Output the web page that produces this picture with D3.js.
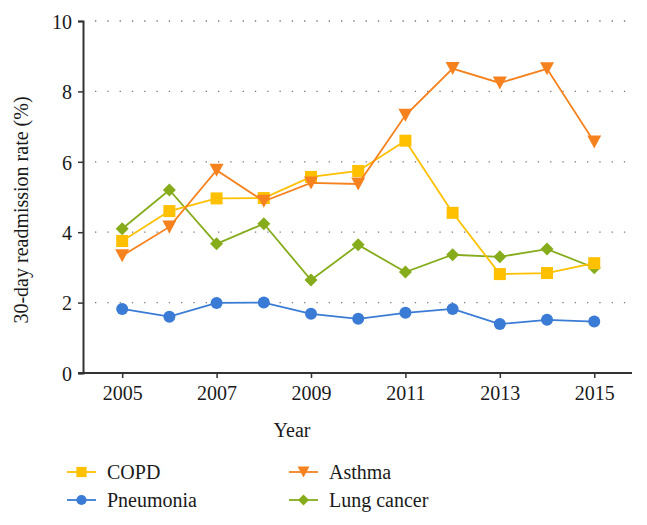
<!DOCTYPE html>
<html><head><meta charset="utf-8">
<script src="https://cdn.jsdelivr.net/npm/d3@7"></script>
<style>body{margin:0;background:#fff}svg{display:block}</style>
</head><body><svg id="c" width="647" height="525"></svg>
<script>
const years = [2005,2006,2007,2008,2009,2010,2011,2012,2013,2014,2015];
const copd = [3.75,4.6,4.96,4.97,5.57,5.74,6.6,4.55,2.81,2.84,3.12];
const asthma = [3.33,4.15,5.76,4.88,5.4,5.37,7.32,8.65,8.24,8.64,6.56];
const pneumonia = [1.82,1.6,1.99,2.0,1.68,1.54,1.71,1.82,1.39,1.51,1.46];
const lungCancer = [4.1,5.2,3.67,4.24,2.64,3.64,2.87,3.36,3.3,3.52,2.99];
const yTicks = [0,2,4,6,8,10];
const xTicks = [2005,2007,2009,2011,2013,2015];
const seriesNames = ["COPD","Asthma","Pneumonia","Lung cancer"];

const series = [
  {name:seriesNames[0], values:copd, color:"#FFC000", sym:"square"},
  {name:seriesNames[1], values:asthma, color:"#F5821F", sym:"tri"},
  {name:seriesNames[2], values:pneumonia, color:"#3A7BD5", sym:"circle"},
  {name:seriesNames[3], values:lungCancer, color:"#86AC1C", sym:"diamond"}
];

const FS = "20px";
const FF = "'Liberation Serif', 'DejaVu Serif', serif";
const svg = d3.select("#c");
const L=83, R=632, T=21, B=373;
const x = d3.scaleLinear().domain([2004.17,2015.8]).range([L,R]);
const y = d3.scaleLinear().domain([0,10]).range([B,T]);

// gridlines
svg.append("g").selectAll("line").data(yTicks.filter(d=>d>0)).join("line")
  .attr("x1",95).attr("x2",R).attr("y1",d=>y(d)).attr("y2",d=>y(d))
  .attr("stroke","#777").attr("stroke-width",1.3).attr("stroke-dasharray","1.3,11");

// axes
const yAxis = svg.append("g").attr("transform",`translate(${L},0)`)
  .call(d3.axisLeft(y).tickValues(yTicks).tickSize(5).tickPadding(6));
const xAxis = svg.append("g").attr("transform",`translate(0,${B})`)
  .call(d3.axisBottom(x).tickValues(xTicks).tickFormat(d3.format("d")).tickSize(5).tickPadding(8));
[yAxis,xAxis].forEach(g=>{
  g.attr("font-family",FF).attr("font-size",FS);
  g.select(".domain").attr("stroke","#333").attr("stroke-width",2);
  g.selectAll(".tick line").attr("stroke","#333").attr("stroke-width",1.5);
  g.selectAll(".tick text").style("font-family",FF).style("font-size",FS).attr("fill","#1a1a1a");
});
yAxis.selectAll(".tick text").attr("dy","0.36em");
xAxis.select(".domain").attr("d",`M${L-5},0H${R}`);

svg.append("text").attr("transform",`translate(28,${(T+B)/2+13}) rotate(-90)`)
  .attr("text-anchor","middle").style("font-family",FF).style("font-size",FS).attr("fill","#1a1a1a")
  .text("30-day readmission rate (%)");
svg.append("text").attr("x",292).attr("y",437).attr("text-anchor","middle")
  .style("font-family",FF).style("font-size",FS).attr("fill","#1a1a1a").text("Year");

function drawSym(g, s, cx, cy, scale){
  scale = scale||1;
  if(s.sym==="square"){
    const h=6*scale;
    g.append("rect").attr("x",cx-h).attr("y",cy-h).attr("width",2*h).attr("height",2*h).attr("fill",s.color);
  } else if(s.sym==="circle"){
    g.append("circle").attr("cx",cx).attr("cy",cy).attr("r",6*scale).attr("fill",s.color);
  } else if(s.sym==="tri"){
    const w=7*scale, h=6.5*scale;
    g.append("path").attr("d",`M${cx-w},${cy-h}L${cx+w},${cy-h}L${cx},${cy+h}Z`).attr("fill",s.color);
  } else {
    const r=6.5*scale;
    g.append("path").attr("d",`M${cx},${cy-r}L${cx+r},${cy}L${cx},${cy+r}L${cx-r},${cy}Z`).attr("fill",s.color);
  }
}

const line = d3.line().x((d,i)=>x(years[i])).y(d=>y(d));
const order = [3,2,0,1];
order.forEach(k=>{
  const s=series[k];
  const g=svg.append("g");
  g.append("path").attr("d",line(s.values)).attr("fill","none").attr("stroke",s.color).attr("stroke-width",1.8);
  s.values.forEach((v,i)=>drawSym(g,s,x(years[i]),y(v)));
});

// legend
const legPos = [[67,472],[289,472],[67,500],[289,500]];
series.forEach((s,i)=>{
  const [lx,ly]=legPos[i];
  const g=svg.append("g");
  g.append("line").attr("x1",lx).attr("x2",lx+29).attr("y1",ly).attr("y2",ly).attr("stroke",s.color).attr("stroke-width",1.8);
  drawSym(g,s,lx+14.5,ly,0.85);
  g.append("text").attr("x",lx+40).attr("y",ly+7).style("font-family",FF).style("font-size",FS)
    .attr("fill","#1a1a1a").text(s.name);
});
</script></body></html>
